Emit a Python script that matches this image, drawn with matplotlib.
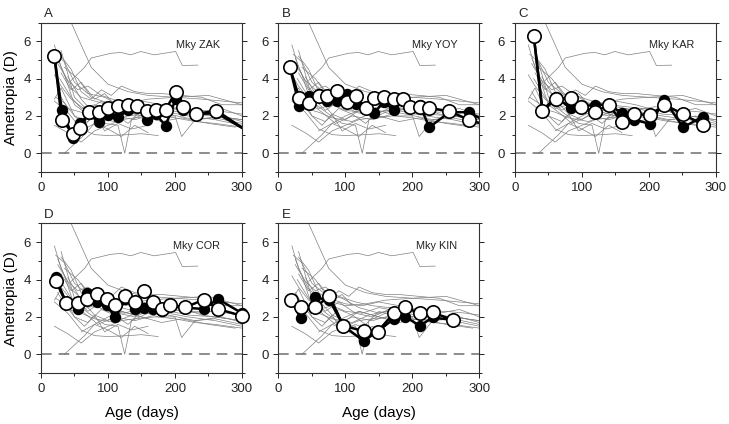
import numpy as np
import matplotlib.pyplot as plt

plt.rcParams['font.family'] = ['Liberation Sans', 'DejaVu Sans']

# normal (control) monkeys: age in days, ametropia in D
normal_ages = [
    [30, 45, 75, 100, 130, 160, 200, 240, 300],
    [45, 65, 75, 104, 119, 134, 149, 169, 201, 211, 234],
    [20, 30, 45, 60, 80, 100, 130, 160, 200, 250, 300],
    [22, 35, 50, 70, 95, 120, 150, 180, 220, 260, 300],
    [25, 35, 50, 65, 85, 110, 140, 170],
    [20, 30, 45, 60, 75, 95, 115, 125, 135, 160, 190],
    [35, 50, 65, 80, 100, 120, 140, 160],
    [20, 40, 60, 80, 100, 130, 150, 175],
    [20, 40, 60, 80, 100, 120, 140, 170, 200, 210, 230, 260, 300],
    [25, 40, 55, 70, 90, 115, 140, 165, 190, 220, 250, 280, 300],
    [30, 45, 60, 75, 90, 105, 120, 140, 160, 180, 210, 240, 270, 300],
    [22, 35, 50, 70, 90, 110, 130, 150, 175, 200, 230, 260, 300],
    [28, 45, 60, 80, 100, 125, 150, 180, 210, 240, 280, 300],
    [20, 30, 50, 65, 80, 95, 115, 135, 160],
    [30, 50, 70, 90, 115, 140, 165, 190, 220, 260, 300],
    [35, 55, 75, 100, 125, 150, 180, 210, 240, 270, 300],
    [40, 60, 80, 100, 120, 150, 180, 210, 250, 290],
    [25, 40, 60, 80, 110, 135, 160, 190, 230, 270, 300],
    [60, 80, 100, 120, 140, 160],
    [30, 45, 60, 80, 95, 110],
]
normal_refr = [
    [9.5, 7.0, 4.6, 3.7, 3.3, 3.1, 3.0, 2.9, 2.7],
    [3.9, 4.6, 5.1, 5.35, 5.4, 5.27, 5.45, 5.27, 5.45, 4.7, 4.72],
    [5.8, 4.6, 3.5, 3.0, 2.8, 2.6, 2.7, 2.9, 3.0, 3.1, 2.6],
    [5.3, 4.9, 3.8, 3.2, 3.0, 2.5, 2.2, 2.4, 2.1, 2.0, 1.8],
    [5.1, 4.2, 2.6, 2.2, 1.6, 2.0, 1.8, 2.1],
    [4.2, 3.6, 2.9, 2.5, 2.1, 1.6, 1.5, 0.0, 1.8, 2.2, 2.4],
    [0.0, 0.5, 1.0, 1.6, 2.0, 2.3, 2.1, 1.9],
    [2.8, 2.2, 1.3, 1.0, 0.95, 1.0, 1.05, 0.95],
    [1.5, 1.1, 0.6, 1.2, 1.5, 1.8, 1.9, 2.0, 2.0, 0.9, 1.8, 1.9, 1.6],
    [4.8, 3.9, 3.4, 3.6, 3.1, 2.8, 2.6, 2.5, 2.4, 2.3, 2.3, 2.2, 2.1],
    [5.2, 4.5, 3.3, 2.9, 3.4, 3.1, 3.6, 3.3, 3.2, 3.2, 3.1, 3.0, 2.6, 2.6],
    [3.0, 2.7, 2.0, 1.7, 2.4, 2.1, 1.6, 2.3, 2.0, 1.9, 1.7, 1.6, 1.4],
    [4.0, 3.0, 2.4, 2.6, 2.3, 2.2, 2.5, 2.3, 2.5, 2.1, 1.9, 1.8],
    [2.9, 3.5, 2.0, 1.5, 2.1, 1.2, 1.6, 1.3, 1.5],
    [5.5, 3.0, 2.3, 2.8, 2.2, 2.0, 2.4, 2.2, 2.0, 1.8, 1.5],
    [4.6, 4.0, 3.0, 2.7, 2.6, 2.8, 2.6, 2.3, 2.2, 2.4, 2.0],
    [4.1, 2.9, 2.1, 1.8, 2.3, 2.0, 1.7, 1.9, 1.6, 1.4],
    [3.3, 2.4, 2.2, 1.9, 1.7, 2.1, 2.3, 2.1, 1.8, 2.0, 1.7],
    [1.2, 1.6, 1.3, 0.9, 1.5, 1.1],
    [4.3, 3.4, 3.8, 2.9, 3.2, 2.6],
]

# treated monkeys: ages, open-symbol eye, filled-symbol eye
zak_age = [20, 31, 48, 58, 72, 87, 100, 115, 130, 144, 158, 171, 186, 201, 212, 232, 262, 320]
zak_open = [5.23, 1.8, 1.04, 1.34, 2.2, 2.23, 2.43, 2.55, 2.6, 2.55, 2.29, 2.34, 2.34, 3.27, 2.5, 2.1, 2.29, 0.9]
zak_filled = [5.2, 2.34, 0.82, 1.6, 2.1, 1.66, 2.07, 1.93, 2.32, 2.5, 1.8, 2.1, 1.48, 2.9, 2.34, 2.1, 2.15, 0.95]

yoy_age = [17, 31, 45, 60, 73, 87, 102, 115, 130, 143, 157, 172, 186, 197, 211, 225, 255, 284, 310]
yoy_open = [4.6, 2.96, 2.7, 3.05, 3.05, 3.36, 2.73, 3.05, 2.43, 2.96, 3.0, 2.91, 2.91, 2.46, 2.46, 2.43, 2.25, 1.8, 1.5]
yoy_filled = [4.6, 2.54, 3.09, 3.2, 2.8, 2.8, 3.2, 2.65, 2.5, 2.16, 2.75, 2.32, 2.8, 2.5, 2.6, 1.39, 2.2, 2.2, 1.7]

kar_age = [28, 41, 61, 83, 98, 120, 140, 160, 178, 202, 223, 251, 280]
kar_open = [6.3, 2.25, 2.91, 2.96, 2.5, 2.23, 2.59, 1.66, 2.1, 2.05, 2.6, 2.1, 1.52]
kar_filled = [6.3, 2.3, 3.0, 2.43, 2.5, 2.6, 2.59, 2.16, 1.8, 1.57, 2.86, 1.39, 1.96]

cor_age = [22, 38, 55, 69, 84, 98, 111, 126, 140, 154, 167, 181, 193, 215, 243, 264, 300]
cor_open = [3.94, 2.72, 2.74, 2.96, 3.22, 2.96, 2.63, 3.13, 2.78, 3.4, 2.78, 2.42, 2.63, 2.51, 2.92, 2.42, 2.06]
cor_filled = [4.12, 2.7, 2.42, 3.26, 2.81, 2.63, 1.97, 2.96, 2.45, 2.5, 2.42, 2.33, 2.63, 2.5, 2.42, 2.96, 2.2]

kin_age = [19, 33, 55, 76, 97, 127, 148, 172, 189, 211, 230, 260]
kin_open = [2.92, 2.51, 2.51, 3.13, 1.52, 1.25, 1.22, 2.19, 2.51, 2.19, 2.24, 1.84]
kin_filled = [2.92, 1.93, 3.04, 2.9, 1.52, 0.72, 1.22, 1.9, 2.02, 1.52, 1.97, 1.84]

panels = [
    ("A", "Mky ZAK", zak_age, zak_open, zak_filled),
    ("B", "Mky YOY", yoy_age, yoy_open, yoy_filled),
    ("C", "Mky KAR", kar_age, kar_open, kar_filled),
    ("D", "Mky COR", cor_age, cor_open, cor_filled),
    ("E", "Mky KIN", kin_age, kin_open, kin_filled),
]

fig = plt.figure(figsize=(7.29, 4.24), dpi=100)
lefts = [0.0562, 0.382, 0.7064]
bottoms = [0.5943, 0.1203]
w, h = 0.2757, 0.3526

for i, (letter, name, age, ref_open, ref_filled) in enumerate(panels):
    ax = fig.add_axes([lefts[i % 3], bottoms[i // 3], w, h])
    for a, r in zip(normal_ages, normal_refr):
        ax.plot(a, r, color='#808080', lw=0.5, zorder=1)
    ax.axhline(0, color='#6e6e6e', lw=1.1, dashes=(7, 4.5), zorder=1)

    age = np.array(age)
    inside = age <= 300
    ref_filled = np.array(ref_filled)
    ref_open = np.array(ref_open)
    ax.plot(age, ref_filled, color='black', lw=1.8, zorder=2)
    ax.plot(age[inside], ref_filled[inside], 'o', ms=7.2, mfc='black', mec='black',
            zorder=3, clip_on=False)
    ax.plot(age, ref_open, color='black', lw=1.8, zorder=4)
    ax.plot(age[inside], ref_open[inside], 'o', ms=9.6, mfc='white', mec='black',
            mew=1.2, zorder=5, clip_on=False)

    ax.set_xlim(0, 300)
    ax.set_ylim(-1, 7)
    ax.set_xticks([0, 100, 200, 300])
    ax.set_xticks([50, 150, 250], minor=True)
    ax.set_yticks([0, 2, 4, 6])
    ax.set_yticks([-1, 1, 3, 5, 7], minor=True)
    ax.tick_params(which='both', direction='out', right=True, top=False,
                   labelsize=9.5, width=0.7, colors='#222222')
    ax.tick_params(which='major', length=3.5)
    ax.tick_params(which='minor', length=2.2)
    for s in ax.spines.values():
        s.set_linewidth(0.8)
        s.set_color('#333333')

    ax.text(0.89, 0.85, name, transform=ax.transAxes, ha='right', va='center',
            fontsize=7.8, color='#222222')
    ax.text(0.015, 1.015, letter, transform=ax.transAxes, ha='left', va='bottom',
            fontsize=9.5, color='#222222')
    if i % 3 == 0:
        ax.set_ylabel('Ametropia (D)', fontsize=11, labelpad=4)
    if i >= 3:
        ax.set_xlabel('Age (days)', fontsize=11, labelpad=8)

fig.savefig('out.png', dpi=100)
